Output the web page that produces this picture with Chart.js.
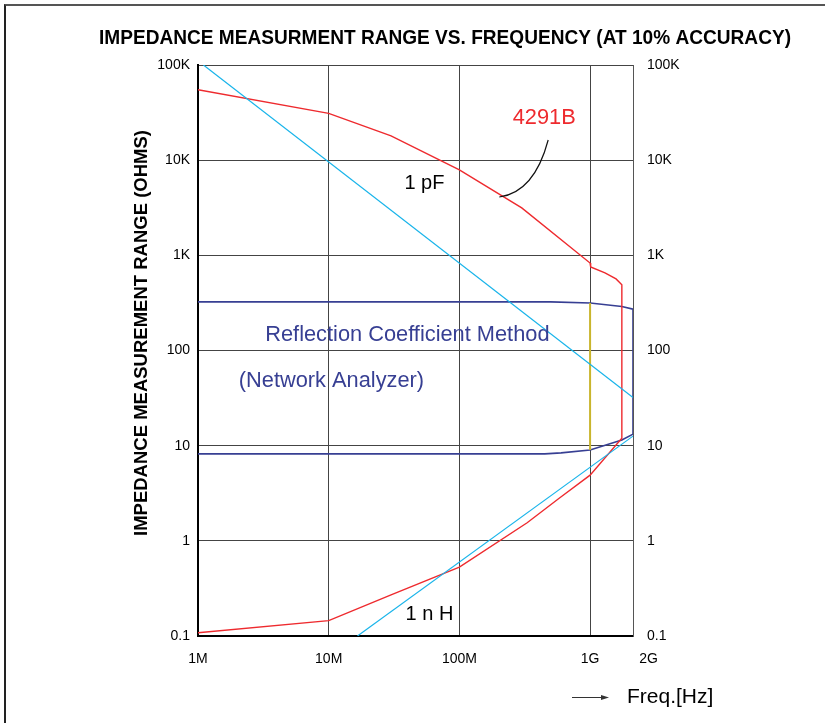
<!DOCTYPE html>
<html lang="en">
<head>
    <meta charset="UTF-8">
    <title>Impedance Measurement Range vs. Frequency</title>
    <script src="https://cdn.jsdelivr.net/npm/chart.js"></script>
    <style>
        body { margin: 0; background: #fff; overflow: hidden; }
        .wrap { position: relative; width: 825px; height: 723px; }
        .frame { position: absolute; left: 4px; top: 4px; width: 900px; height: 800px;
                 border-top: 2px solid #555; border-left: 2px solid #222; pointer-events: none; }
        canvas { position: absolute; left: 0; top: 0; }
    </style>
</head>
<body>
<div class="wrap">
    <canvas id="impedanceChart" width="825" height="723"></canvas>
    <div class="frame"></div>
</div>

<script>
// axis ticks
const xTicks = [1e6, 1e7, 1e8, 1e9, 2.13e9];
const xTickLabels = ['1M', '10M', '100M', '1G', '2G'];
const yTicks = [0.1, 1, 10, 100, 1000, 10000, 100000];
const yTickLabels = ['0.1', '1', '10', '100', '1K', '10K', '100K'];

// 4291B range: upper edge, drop at the top frequency, then lower edge back to 1M
const redFreq = [1e6, 1e7, 3e7, 1e8, 3e8, 1e9, 1.01e9, 1.3e9, 1.58e9, 1.75e9, 1.75e9, 1e9, 5.8e8, 3.3e8, 1e8, 3e7, 1e7, 1e6];
const redZ = [55000, 31000, 18000, 7900, 3150, 830, 755, 655, 565, 490, 12, 4.9, 2.8, 1.55, 0.53, 0.27, 0.145, 0.108];

// reflection coefficient method (network analyzer)
const navyFreq = [1e6, 5e8, 1e9, 1.75e9, 2.13e9, 2.13e9, 1.75e9, 1e9, 6e8, 4.5e8, 1e6];
const navyZ = [324, 324, 316, 290, 272, 13.2, 11.5, 9.0, 8.4, 8.2, 8.2];

// 1 pF and 1 nH reference lines
const pfFreq = [1.1e6, 2.13e9];
const pfZ = [100000, 32];
const nhFreq = [1.66e7, 2.13e9];
const nhZ = [0.1, 12.6];

// 1G marker between the network analyzer limits
const markFreq = [1e9, 1e9];
const markZ = [316, 9.0];

function pts(xs, ys) {
    return xs.map((x, i) => ({ x: x, y: ys[i] }));
}

const RED = '#ee2a2e';
const NAVY = '#373f93';
const CYAN = '#18b4ea';
const FONT = "'Liberation Sans', Arial, sans-serif";

// text labels placed in data units
const notes = [
    { text: '4291B', x: 4.46e8, y: 27700, color: RED, size: 21.8 },
    { text: '1 pF', x: 5.4e7, y: 5750, color: '#000', size: 20 },
    { text: '1 n H', x: 5.9e7, y: 0.167, color: '#000', size: 20 },
    { text: 'Reflection Coefficient Method', x: 4.0e7, y: 146, color: NAVY, size: 21.8 },
    { text: '(Network Analyzer)', x: 1.05e7, y: 48, color: NAVY, size: 21.8 }
];

const extras = {
    id: 'extras',
    afterDatasetsDraw(chart) {
        const ctx = chart.ctx;
        const xs = chart.scales.x, ys = chart.scales.y;
        ctx.save();
        ctx.textAlign = 'center';
        ctx.textBaseline = 'middle';
        notes.forEach(n => {
            ctx.fillStyle = n.color;
            ctx.font = n.size + 'px ' + FONT;
            ctx.fillText(n.text, xs.getPixelForValue(n.x), ys.getPixelForValue(n.y));
        });
        // leader from 4291B label to its curve
        ctx.strokeStyle = '#111';
        ctx.lineWidth = 1.2;
        ctx.beginPath();
        ctx.moveTo(xs.getPixelForValue(4.78e8), ys.getPixelForValue(16300));
        ctx.quadraticCurveTo(xs.getPixelForValue(3.74e8), ys.getPixelForValue(4600),
                             xs.getPixelForValue(2.02e8), ys.getPixelForValue(4100));
        ctx.stroke();
        ctx.restore();

        // title, condensed bold
        ctx.save();
        const title = 'IMPEDANCE MEASURMENT RANGE VS. FREQUENCY (AT 10% ACCURACY)';
        ctx.font = 'bold 20px ' + FONT;
        ctx.fillStyle = '#000';
        ctx.textAlign = 'center';
        ctx.textBaseline = 'middle';
        const k = 692 / ctx.measureText(title).width;
        ctx.translate(445, 38);
        ctx.scale(k, 1);
        ctx.fillText(title, 0, 0);
        ctx.restore();

        // y axis title
        ctx.save();
        ctx.fillStyle = '#000';
        ctx.font = 'bold 18.5px ' + FONT;
        ctx.textAlign = 'center';
        ctx.textBaseline = 'middle';
        ctx.translate(142, 333);
        ctx.rotate(-Math.PI / 2);
        ctx.fillText('IMPEDANCE MEASUREMENT RANGE (OHMS)', 0, 0);
        ctx.restore();

        // frequency arrow
        ctx.save();
        ctx.strokeStyle = '#333';
        ctx.fillStyle = '#333';
        ctx.lineWidth = 1;
        ctx.beginPath();
        ctx.moveTo(572, 697.5);
        ctx.lineTo(604, 697.5);
        ctx.stroke();
        ctx.beginPath();
        ctx.moveTo(609, 697.5);
        ctx.lineTo(601, 695);
        ctx.lineTo(601, 700);
        ctx.closePath();
        ctx.fill();
        ctx.fillStyle = '#000';
        ctx.font = '21px ' + FONT;
        ctx.textAlign = 'left';
        ctx.textBaseline = 'middle';
        ctx.fillText('Freq.[Hz]', 627, 697);
        ctx.restore();
    }
};

Chart.defaults.font.family = FONT;
Chart.defaults.color = '#000';

const line = (data, color, width) => ({
    data: data,
    borderColor: color,
    borderWidth: width,
    pointRadius: 0,
    tension: 0,
    fill: false
});

const impedanceChart = new Chart(document.getElementById('impedanceChart'), {
    type: 'line',
    data: {
        datasets: [
            line(pts(pfFreq, pfZ), CYAN, 1.2),
            line(pts(nhFreq, nhZ), CYAN, 1.2),
            line(pts(redFreq, redZ), RED, 1.4),
            line(pts(markFreq, markZ), '#c9b52c', 2),
            line(pts(navyFreq, navyZ), NAVY, 1.6)
        ]
    },
    options: {
        responsive: false,
        animation: false,
        layout: { padding: { top: 65 } },
        plugins: {
            legend: { display: false },
            tooltip: { enabled: false },
            title: { display: false }
        },
        scales: {
            x: {
                type: 'logarithmic',
                min: 1e6,
                max: 2.13e9,
                afterFit: s => { s.height = 87; },
                afterBuildTicks: s => { s.ticks = xTicks.map(v => ({ value: v })); },
                ticks: {
                    autoSkip: false,
                    maxRotation: 0,
                    padding: 15,
                    font: { size: 14 },
                    callback: (v, i) => i === xTicks.length - 1 ? '        ' + xTickLabels[i] : xTickLabels[i]
                },
                grid: { color: '#444', lineWidth: 1, drawTicks: false },
                border: { color: '#000', width: 2 }
            },
            y: {
                type: 'logarithmic',
                position: 'left',
                min: 0.1,
                max: 100000,
                afterFit: s => { s.width = 198; },
                afterBuildTicks: s => { s.ticks = yTicks.map(v => ({ value: v })); },
                ticks: {
                    autoSkip: false,
                    padding: 8,
                    font: { size: 14 },
                    callback: (v, i) => yTickLabels[i]
                },
                grid: { color: '#444', lineWidth: 1, drawTicks: false },
                border: { color: '#000', width: 2 }
            },
            y2: {
                type: 'logarithmic',
                position: 'right',
                min: 0.1,
                max: 100000,
                afterFit: s => { s.width = 192; },
                afterBuildTicks: s => { s.ticks = yTicks.map(v => ({ value: v })); },
                ticks: {
                    autoSkip: false,
                    padding: 14,
                    font: { size: 14 },
                    callback: (v, i) => yTickLabels[i]
                },
                grid: { display: false, drawTicks: false },
                border: { color: '#555', width: 1 }
            }
        }
    },
    plugins: [extras]
});
</script>
</body>
</html>
